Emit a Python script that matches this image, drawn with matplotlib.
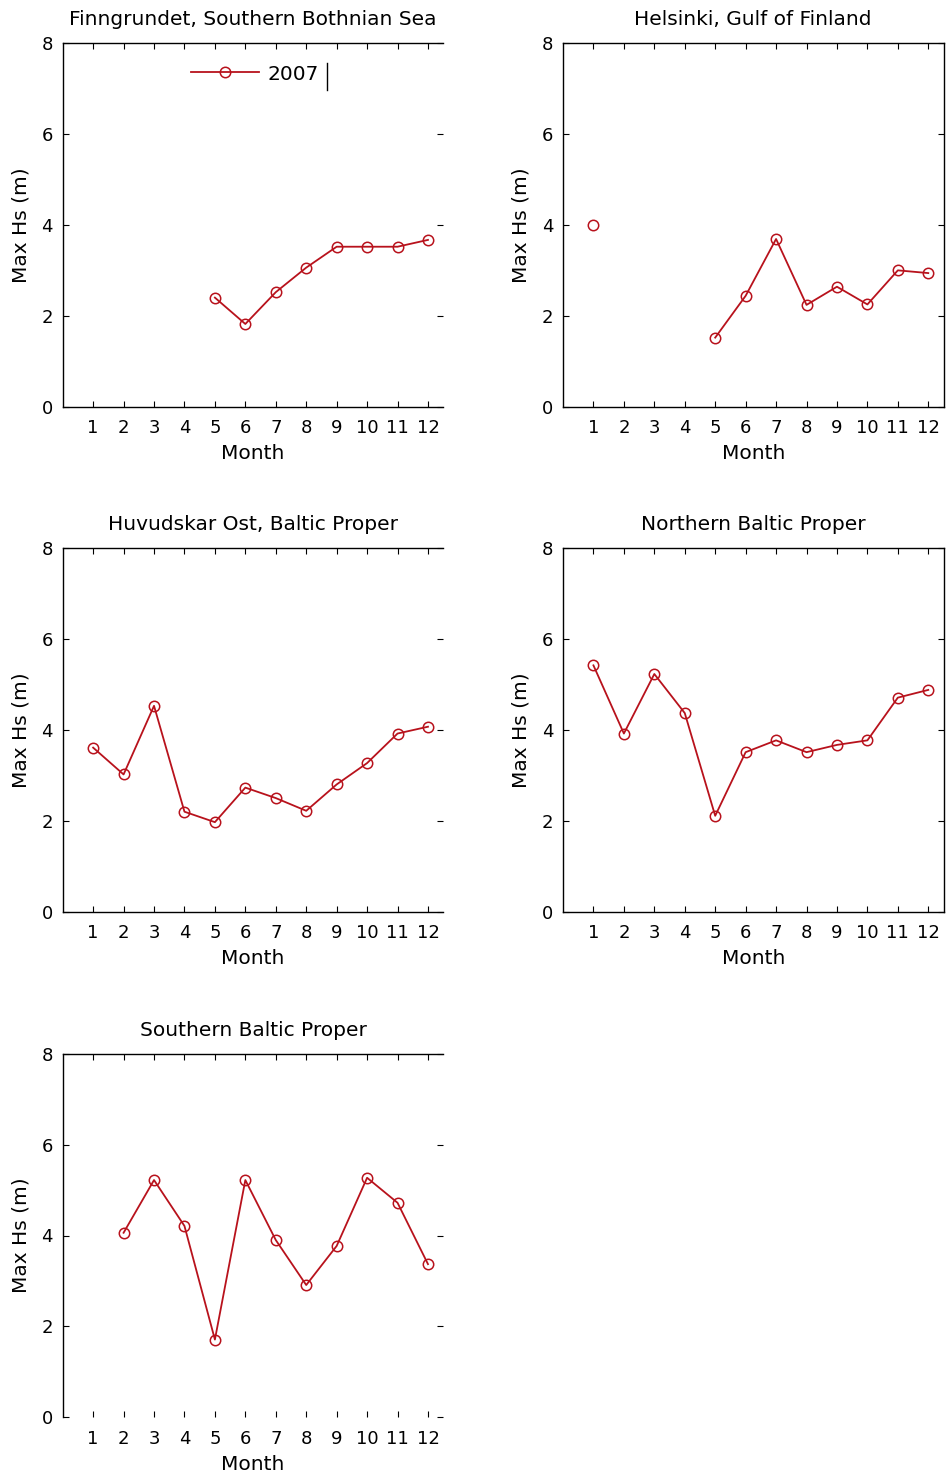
import matplotlib
matplotlib.use("Agg")
import matplotlib.pyplot as plt
from matplotlib.lines import Line2D

months = list(range(1, 13))
month_labels = [str(m) for m in months]

# Monthly maximum significant wave height (m), 2007; None = no data
finngrundet = [None, None, None, None, 2.40, 1.82, 2.52, 3.06, 3.52, 3.52, 3.52, 3.67]
helsinki = [4.0, None, None, None, 1.52, 2.44, 3.69, 2.24, 2.64, 2.25, 3.00, 2.94]
huvudskar = [3.61, 3.02, 4.53, 2.20, 1.97, 2.73, 2.50, 2.22, 2.80, 3.27, 3.92, 4.07]
northern_bp = [5.42, 3.92, 5.23, 4.37, 2.11, 3.51, 3.77, 3.51, 3.67, 3.77, 4.71, 4.88]
southern_bp = [None, 4.06, 5.22, 4.21, 1.71, 5.22, 3.90, 2.91, 3.77, 5.27, 4.72, 3.37]

titles = [
    "Finngrundet, Southern Bothnian Sea",
    "Helsinki, Gulf of Finland",
    "Huvudskar Ost, Baltic Proper",
    "Northern Baltic Proper",
    "Southern Baltic Proper",
]
series = [finngrundet, helsinki, huvudskar, northern_bp, southern_bp]
year_label = "2007"

plt.rcParams["font.family"] = ["DejaVu Sans"]
RED = "#b8121c"
TICK_FS = 13
LABEL_FS = 14.5

fig = plt.figure(figsize=(9.48, 14.81), dpi=100)
W, H = 948, 1481
col_left = [62.7, 563.0]
col_w = 380.5
row_bottom = [406.7, 911.7, 1417.3]
row_h = 363.6

positions = [(0, 0), (1, 0), (0, 1), (1, 1), (0, 2)]
hidden_spines = [["right"], [], ["right"], [], ["right", "bottom"]]

for i, (vals, title) in enumerate(zip(series, titles)):
    c, r = positions[i]
    ax = fig.add_axes([col_left[c] / W, 1 - row_bottom[r] / H, col_w / W, row_h / H])
    y = [float("nan") if v is None else v for v in vals]
    ax.plot(months, y, color=RED, lw=1.3, marker="o", ms=7.5,
            mfc="none", mec=RED, mew=1.1, label=year_label)
    ax.set_xlim(0, 12.5)
    ax.set_ylim(0, 8)
    ax.set_xticks(months)
    ax.set_xticklabels(month_labels)
    ax.set_yticks([0, 2, 4, 6, 8])
    ax.tick_params(direction="in", length=4, width=0.8, top=True, right=True,
                   labelsize=TICK_FS)
    ax.tick_params(axis="x", pad=9)
    ax.tick_params(axis="y", pad=7)
    for s in ax.spines.values():
        s.set_linewidth(1.0)
    for s in hidden_spines[i]:
        ax.spines[s].set_visible(False)
    ax.set_title(title, fontsize=LABEL_FS, pad=13)
    ax.set_xlabel("Month", fontsize=LABEL_FS, labelpad=5)
    ax.set_ylabel("Max Hs (m)", fontsize=LABEL_FS, labelpad=8)
    if i == 0:
        ax.legend(loc="center", bbox_to_anchor=(0.505, 0.915), frameon=False,
                  fontsize=LABEL_FS, handlelength=3.4, handletextpad=0.4)
        ax.add_line(Line2D([0.694, 0.694], [0.87, 0.945], transform=ax.transAxes,
                           color="black", lw=1.0))

fig.savefig("out.png", dpi=100)
